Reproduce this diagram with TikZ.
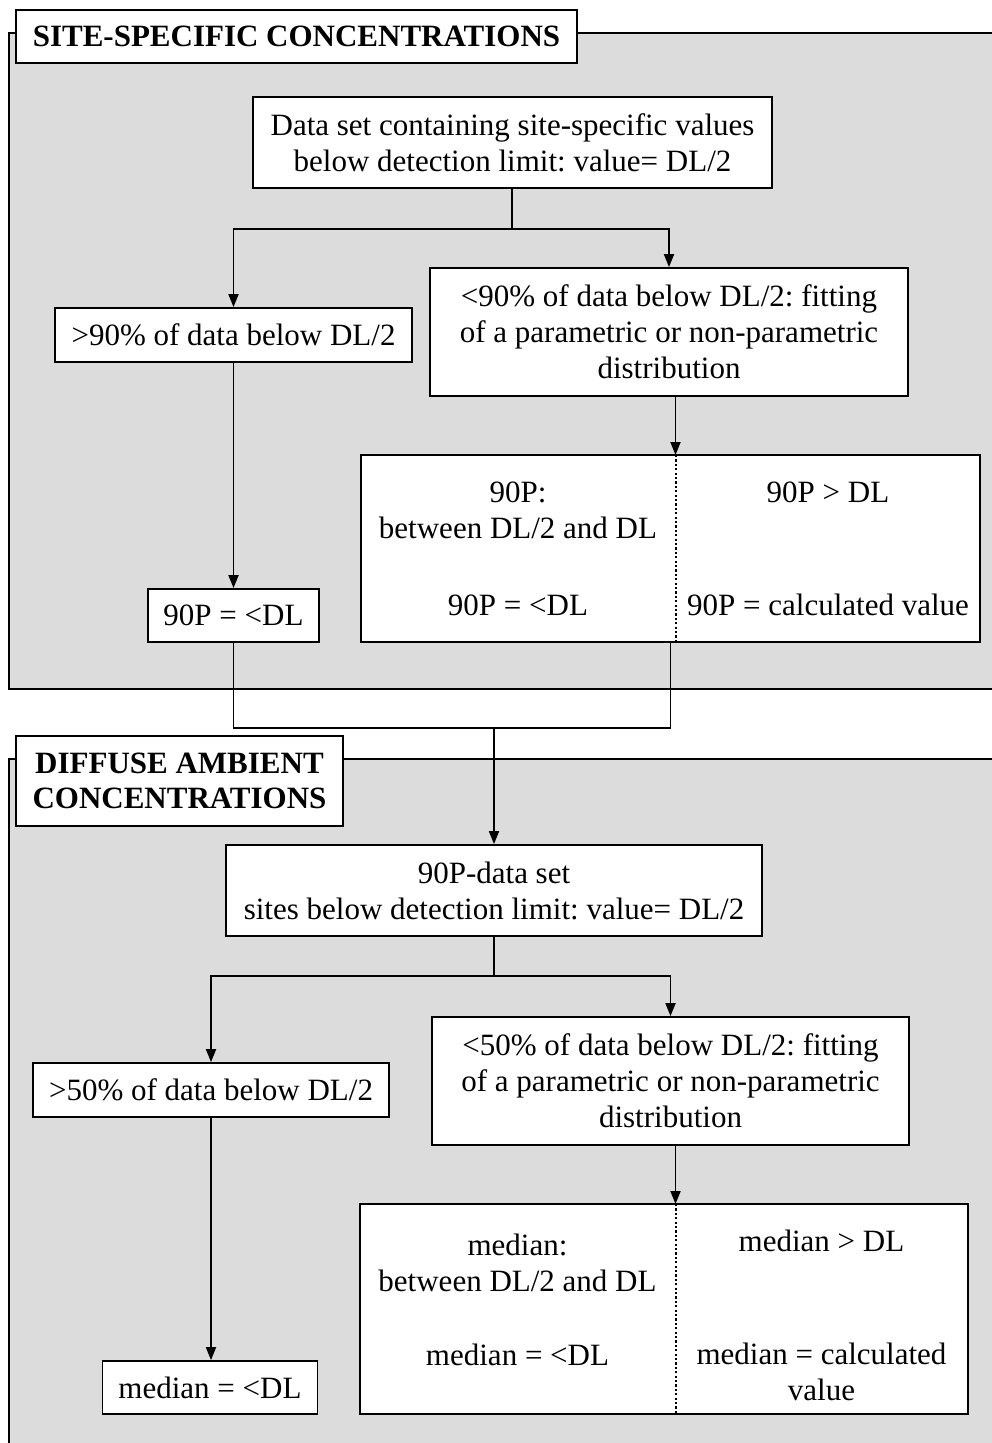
\documentclass[tikz,border=0pt]{standalone}
\usepackage{fontspec}
\setmainfont{Liberation Serif}
\usetikzlibrary{arrows.meta}
\definecolor{panelgray}{RGB}{220,220,220}
\frenchspacing
\begin{document}
\begin{tikzpicture}[x=1pt,y=-1pt,
  every node/.style={font=\fontsize{31}{36}\selectfont, align=center, inner sep=0pt},
  box/.style={draw, fill=white, line width=1.8pt},
  titlebox/.style={box, font=\fontsize{31}{35}\selectfont\bfseries},
  conn/.style={line width=1.8pt},
  arr/.style={conn, -{Triangle[length=13pt,width=10pt]}},
  divider/.style={line width=2pt, dash pattern=on 2.2pt off 2.2pt}]
\useasboundingbox (0,0) rectangle (992,1443);

% ---------- panels ----------
\fill[panelgray] (9,33) rectangle (1000,689);
\draw[conn] (1000,33) -- (9,33) -- (9,689) -- (1000,689);
\fill[panelgray] (9,759) rectangle (1000,1450);
\draw[conn] (1000,759) -- (9,759) -- (9,1450);

% ---------- site-specific part ----------
\node[titlebox, minimum width=561pt, minimum height=53pt] (t1) at (296.5,36.5) {SITE-SPECIFIC CONCENTRATIONS};
\node[box, minimum width=519pt, minimum height=91pt] (data) at (512.5,142.5)
  {Data set containing site-specific values\\below detection limit: value= DL/2};
\node[box, minimum width=357pt, minimum height=54pt] (gt90) at (233.5,335) {>90\% of data below DL/2};
\node[box, minimum width=478pt, minimum height=128pt] (lt90) at (669,332)
  {<90\% of data below DL/2: fitting\\of a parametric or non-parametric\\distribution};
\node[box, minimum width=619pt, minimum height=187pt] (split1) at (670.5,548.5) {};
\coordinate (d1t) at (675.5,455);
\coordinate (d1b) at (675.5,642);
\draw[divider] (d1t) -- (d1b);
\node (s1a) at (518,510) {90P:\\between DL/2 and DL};
\node (s1b) at (518,605) {90P = <DL};
\node (s1c) at (828,492) {90P > DL};
\node (s1d) at (828,605) {90P = calculated value};
\node[box, minimum width=171pt, minimum height=53pt] (p90) at (233.5,615.5) {90P = <DL};

\coordinate (j1) at (512,229);
\draw[conn] (data.south -| j1) -- (j1);
\draw[arr] (j1) -| (gt90.north);
\draw[arr] (j1) -| (lt90.north);
\draw[arr] (gt90.south) -- (p90.north);
\draw[arr] (lt90.south -| d1t) -- (d1t);

% ---------- joining the two parts ----------
\coordinate (j2) at (494,728);
\draw[conn] (p90.south) |- (j2) -| (split1.south);

% ---------- diffuse ambient part ----------
\node[titlebox, minimum width=327pt, minimum height=90pt] (t2) at (179.5,781) {DIFFUSE AMBIENT\\CONCENTRATIONS};
\node[box, minimum width=536pt, minimum height=91pt] (ds90) at (494,890.5)
  {90P-data set\\sites below detection limit: value= DL/2};
\draw[arr] (j2) -- (ds90.north);
\node[box, minimum width=356pt, minimum height=54pt] (gt50) at (211,1090) {>50\% of data below DL/2};
\node[box, minimum width=477pt, minimum height=128pt] (lt50) at (670.5,1081)
  {<50\% of data below DL/2: fitting\\of a parametric or non-parametric\\distribution};
\node[box, minimum width=608pt, minimum height=210pt] (split2) at (664,1309) {};
\coordinate (d2t) at (675.5,1204);
\coordinate (d2b) at (675.5,1414);
\draw[divider] (d2t) -- (d2b);
\node (s2a) at (517.5,1263) {median:\\between DL/2 and DL};
\node (s2b) at (517.5,1355) {median = <DL};
\node (s2c) at (821.5,1241) {median > DL};
\node (s2d) at (821.5,1372) {median = calculated\\value};
\node[box, minimum width=215pt, minimum height=53pt] (med) at (210,1387.5) {median = <DL};

\coordinate (j3) at (494,976);
\draw[conn] (ds90.south) -- (j3);
\draw[arr] (j3) -| (gt50.north);
\draw[arr] (j3) -| (lt50.north);
\draw[arr] (gt50.south) -- (gt50.south |- med.north);
\draw[arr] (lt50.south -| d2t) -- (d2t);
\end{tikzpicture}
\end{document}
